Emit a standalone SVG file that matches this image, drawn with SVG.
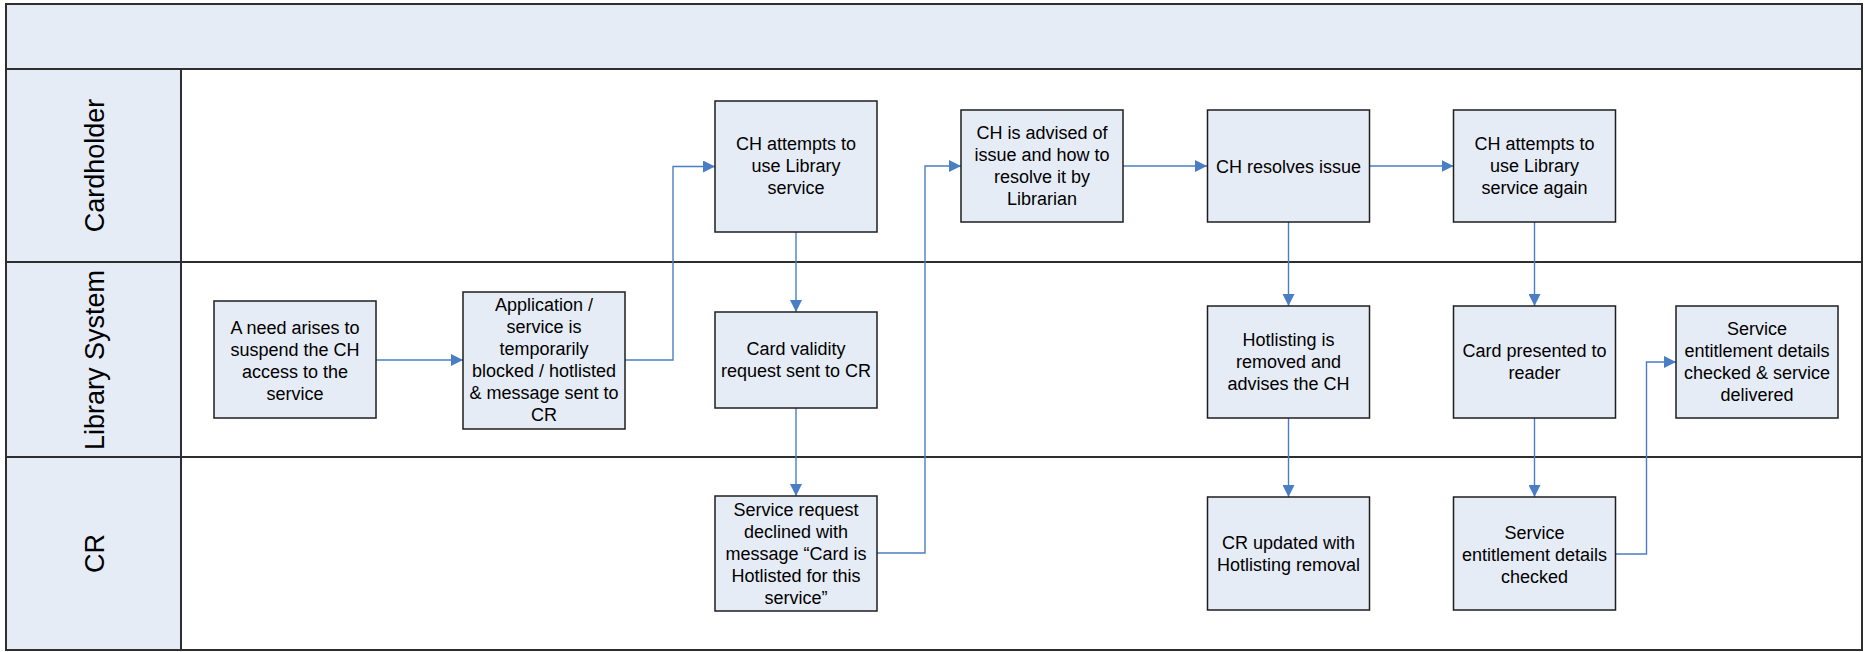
<svg xmlns="http://www.w3.org/2000/svg" width="1865" height="652" viewBox="0 0 1865 652">
  <style>
    .band { fill: #e6ecf6; }
    .frame { fill: none; stroke: #2e2e2e; stroke-width: 2; }
    .lane-label { font-family: "Liberation Sans", Arial, sans-serif; font-size: 27px; fill: #000; text-anchor: middle; }
    .box rect { fill: #e6ecf6; stroke: #1e1e1e; stroke-width: 1.5; }
    .box text { font-family: "Liberation Sans", Arial, sans-serif; font-size: 18px; fill: #000; text-anchor: middle; }
    .conn { fill: none; stroke: #4a7ec4; stroke-width: 1.4; marker-end: url(#arrow); }
  </style>
  <defs>
    <marker id="arrow" markerUnits="userSpaceOnUse" markerWidth="12" markerHeight="12" refX="12" refY="6" orient="auto">
      <path d="M0,0 L12,6 L0,12 Z" fill="#4a7ec4"/>
    </marker>
  </defs>

  <rect width="1865" height="652" fill="#ffffff"/>

  <!-- Pool: title band and lane headers -->
  <g id="pool">
    <rect class="band" x="6" y="4" width="1856" height="65"/>
    <rect class="band" x="6" y="69" width="175" height="581"/>
    <rect class="frame" x="6" y="4" width="1856" height="646"/>
    <line class="frame" x1="6" y1="69" x2="1862" y2="69"/>
    <line class="frame" x1="6" y1="262" x2="1862" y2="262"/>
    <line class="frame" x1="6" y1="457" x2="1862" y2="457"/>
    <line class="frame" x1="181" y1="69" x2="181" y2="650" stroke-width="1.5"/>
  </g>

  <g id="lane-cardholder">
    <text class="lane-label" transform="translate(103.5,165.5) rotate(-90)">Cardholder</text>
  </g>
  <g id="lane-library-system">
    <text class="lane-label" transform="translate(103.5,360) rotate(-90)">Library System</text>
  </g>
  <g id="lane-cr">
    <text class="lane-label" transform="translate(103.5,553.5) rotate(-90)">CR</text>
  </g>

  <!-- Connectors -->
  <g id="connectors">
    <path class="conn" d="M376,360 H463"/>
    <path class="conn" d="M625,360 H673 V166.5 H715"/>
    <path class="conn" d="M796,232 V312"/>
    <path class="conn" d="M796,408 V496"/>
    <path class="conn" d="M877,553 H925 V166 H961"/>
    <path class="conn" d="M1123,166 H1207"/>
    <path class="conn" d="M1370,166 H1453.5"/>
    <path class="conn" d="M1288.5,222 V306"/>
    <path class="conn" d="M1288.5,418 V497"/>
    <path class="conn" d="M1534.5,222 V306"/>
    <path class="conn" d="M1534.5,418 V497"/>
    <path class="conn" d="M1615.5,554 H1646.5 V362 H1676"/>
  </g>

  <!-- Process steps -->
  <g id="need-arises" class="box">
    <rect x="214" y="301" width="162" height="117"/>
    <text x="295"><tspan y="333.5">A need arises to</tspan><tspan x="295" y="355.5">suspend the CH</tspan><tspan x="295" y="377.5">access to the</tspan><tspan x="295" y="399.5">service</tspan></text>
  </g>

  <g id="service-blocked" class="box">
    <rect x="463" y="292" width="162" height="137"/>
    <text x="544"><tspan y="311">Application /</tspan><tspan x="544" y="333">service is</tspan><tspan x="544" y="355">temporarily</tspan><tspan x="544" y="377">blocked / hotlisted</tspan><tspan x="544" y="399">&amp; message sent to</tspan><tspan x="544" y="421">CR</tspan></text>
  </g>

  <g id="ch-attempts" class="box">
    <rect x="715" y="101" width="162" height="131"/>
    <text x="796"><tspan y="150">CH attempts to</tspan><tspan x="796" y="172">use Library</tspan><tspan x="796" y="194">service</tspan></text>
  </g>

  <g id="card-validity" class="box">
    <rect x="715" y="312" width="162" height="96"/>
    <text x="796"><tspan y="355">Card validity</tspan><tspan x="796" y="377">request sent to CR</tspan></text>
  </g>

  <g id="request-declined" class="box">
    <rect x="715" y="496" width="162" height="115"/>
    <text x="796"><tspan y="516">Service request</tspan><tspan x="796" y="538">declined with</tspan><tspan x="796" y="560">message “Card is</tspan><tspan x="796" y="582">Hotlisted for this</tspan><tspan x="796" y="604">service”</tspan></text>
  </g>

  <g id="ch-advised" class="box">
    <rect x="961" y="110" width="162" height="112"/>
    <text x="1042"><tspan y="139">CH is advised of</tspan><tspan x="1042" y="161">issue and how to</tspan><tspan x="1042" y="183">resolve it by</tspan><tspan x="1042" y="205">Librarian</tspan></text>
  </g>

  <g id="ch-resolves" class="box">
    <rect x="1207.5" y="110" width="162" height="112"/>
    <text x="1288.5" y="172.5">CH resolves issue</text>
  </g>

  <g id="hotlisting-removed" class="box">
    <rect x="1207.5" y="306" width="162" height="112"/>
    <text x="1288.5"><tspan y="346">Hotlisting is</tspan><tspan x="1288.5" y="368">removed and</tspan><tspan x="1288.5" y="390">advises the CH</tspan></text>
  </g>

  <g id="cr-updated" class="box">
    <rect x="1207.5" y="497" width="162" height="113"/>
    <text x="1288.5"><tspan y="548.5">CR updated with</tspan><tspan x="1288.5" y="570.5">Hotlisting removal</tspan></text>
  </g>

  <g id="ch-attempts-again" class="box">
    <rect x="1453.5" y="110" width="162" height="112"/>
    <text x="1534.5"><tspan y="150">CH attempts to</tspan><tspan x="1534.5" y="172">use Library</tspan><tspan x="1534.5" y="194">service again</tspan></text>
  </g>

  <g id="card-presented" class="box">
    <rect x="1453.5" y="306" width="162" height="112"/>
    <text x="1534.5"><tspan y="357">Card presented to</tspan><tspan x="1534.5" y="379">reader</tspan></text>
  </g>

  <g id="entitlement-checked" class="box">
    <rect x="1453.5" y="497" width="162" height="113"/>
    <text x="1534.5"><tspan y="538.5">Service</tspan><tspan x="1534.5" y="560.5">entitlement details</tspan><tspan x="1534.5" y="582.5">checked</tspan></text>
  </g>

  <g id="service-delivered" class="box">
    <rect x="1676" y="306" width="162" height="112"/>
    <text x="1757"><tspan y="335">Service</tspan><tspan x="1757" y="357">entitlement details</tspan><tspan x="1757" y="379">checked &amp; service</tspan><tspan x="1757" y="401">delivered</tspan></text>
  </g>
</svg>
